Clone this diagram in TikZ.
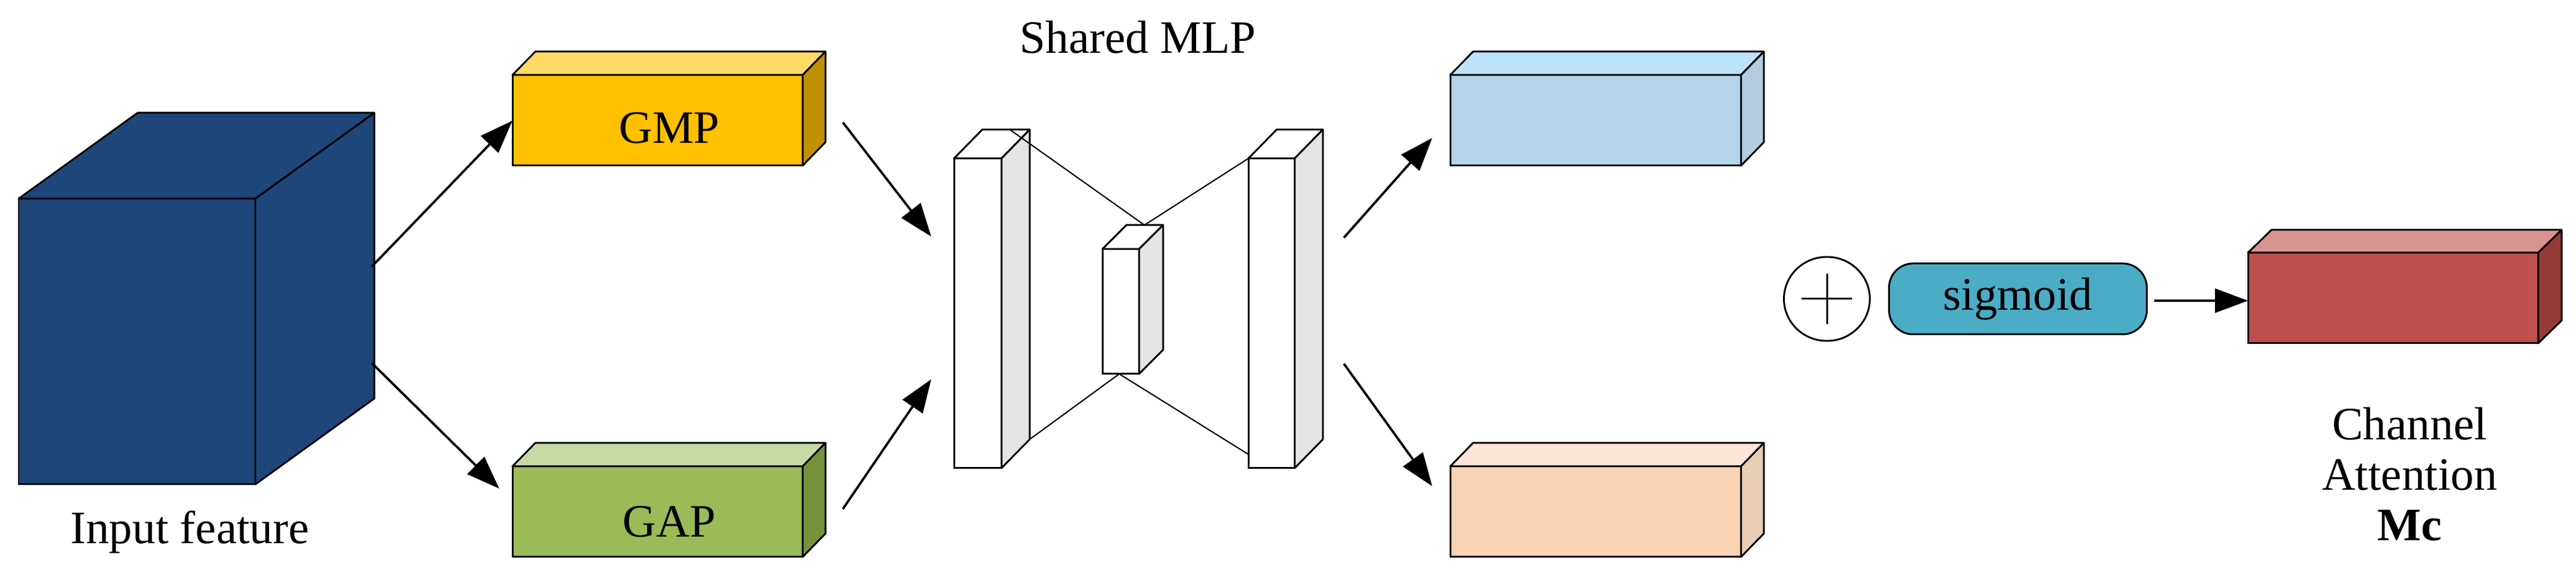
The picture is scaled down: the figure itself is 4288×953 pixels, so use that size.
\documentclass[tikz,border=0pt]{standalone}
\usepackage{fontspec}
\setmainfont{Liberation Serif}
\usetikzlibrary{arrows.meta,calc,shapes.geometric}
\definecolor{navy}{HTML}{1F467A}
\definecolor{gmpF}{HTML}{FFC000}\definecolor{gmpT}{HTML}{FFD966}\definecolor{gmpS}{HTML}{BF9000}
\definecolor{gapF}{HTML}{9BBB59}\definecolor{gapT}{HTML}{C6D9A5}\definecolor{gapS}{HTML}{76923C}
\definecolor{bluF}{HTML}{B4D4EC}\definecolor{bluT}{HTML}{BDE3FB}\definecolor{bluS}{HTML}{B4CCE0}
\definecolor{pchF}{HTML}{F8D4B4}\definecolor{pchT}{HTML}{FCE4D6}\definecolor{pchS}{HTML}{E8CCB4}
\definecolor{redF}{HTML}{C0504D}\definecolor{redT}{HTML}{D9948F}\definecolor{redS}{HTML}{963C38}
\definecolor{sigC}{HTML}{4BACC6}\definecolor{mlpS}{HTML}{E4E4E4}
\newcommand\cub[9]{%
  \node[face,fill=#8,minimum width=#4*0.1mm,minimum height=#5*0.1mm,anchor=north west] (#1) at (#2,#3) {};
  \draw[edge,fill=#9] (#1.north west) -- ++(#6,-#7) -- ++(#4,0) -- ++(-#6,#7) -- cycle;
}
\newcommand\side[4]{% name dx dy color
  \draw[edge,fill=#4] (#1.north east) -- ++(#2,-#3) -- ($(#1.south east)+(#2,-#3)$) -- (#1.south east) -- cycle;
}
\tikzset{face/.style={draw,line width=0.85pt,inner sep=0pt,outer sep=0pt},
  edge/.style={line width=0.85pt,line join=round},
  arr/.style={line width=1.1pt,-{Triangle[length=5.5mm,width=4mm]}},
  lbl/.style={font=\fontsize{22}{26}\selectfont},
  thin/.style={line width=0.6pt}}
\begin{document}
\begin{tikzpicture}[x=0.1mm,y=-0.1mm]
\useasboundingbox (0,0) rectangle (4288,953);
% input cube
\cub{inp}{31}{331}{394}{476}{198}{143}{navy}{navy}{}
\side{inp}{198}{143}{navy}
\cub{gmp}{853}{125}{483}{151}{38}{39}{gmpF}{gmpT}{}
\side{gmp}{38}{39}{gmpS}
\cub{gap}{853}{777}{483}{151}{38}{39}{gapF}{gapT}{}
\side{gap}{38}{39}{gapS}
\cub{blu}{2414}{125}{484}{151}{38}{39}{bluF}{bluT}{}
\side{blu}{38}{39}{bluS}
\cub{pch}{2414}{777}{484}{151}{38}{39}{pchF}{pchT}{}
\side{pch}{38}{39}{pchS}
\cub{red}{3742}{421}{483}{151}{39}{38}{redF}{redT}{}
\side{red}{39}{38}{redS}
% MLP
\cub{l1}{1588}{264}{79}{516}{47}{48}{white}{white}{}
\side{l1}{47}{48}{mlpS}
\cub{l2}{2078}{264}{77}{516}{47}{48}{white}{white}{}
\side{l2}{47}{48}{mlpS}
\coordinate (l1bt) at ($(l1.north east)+(14,-48)$);
\coordinate (l1sb) at ($(l1.south east)+(47,-48)$);
\coordinate (mt) at (1905,375);
\coordinate (mb) at (1863,623);
\coordinate (l2b) at (2078,757);
\draw[thin] (l1bt) -- (mt) -- (l2.north west);
\draw[thin] (l1sb) -- (mb) -- (l2b);
\cub{mid}{1835}{415}{61}{208}{40}{40}{white}{white}{}
\side{mid}{40}{40}{mlpS}
% labels
\node[lbl] (tin) at (316,887) {Input feature};
\node[lbl] (tgmp) at (1114,213) {GMP};
\node[lbl] (tgap) at (1114,869) {GAP};
\node[lbl] (tmlp) at (1894,62) {Shared MLP};
\node[lbl,align=center] (tca) at (4011,790) {Channel\\[-2pt]Attention\\[-2pt]\textbf{Mc}};
% arrows
\coordinate (a1) at (619,444); \coordinate (a1e) at (853,201);
\coordinate (a2) at (619,605); \coordinate (a2e) at (831,814);
\coordinate (a3) at (1403,204); \coordinate (a3e) at (1550,394);
\coordinate (a4) at (1403,848); \coordinate (a4e) at (1550,632);
\coordinate (a5) at (2237,396); \coordinate (a5e) at (2384,230);
\coordinate (a6) at (2237,606); \coordinate (a6e) at (2384,810);
\draw[arr] (a1) -- (a1e);
\draw[arr] (a2) -- (a2e);
\draw[arr] (a3) -- (a3e);
\draw[arr] (a4) -- (a4e);
\draw[arr] (a5) -- (a5e);
\draw[arr] (a6) -- (a6e);
% plus, sigmoid
\node[draw,line width=0.85pt,ellipse,minimum width=14.3mm,minimum height=14mm,inner sep=0pt] (plus) at (3041,498) {};
\draw[line width=0.85pt] ($(plus.center)+(-42,0)$) -- ($(plus.center)+(42,0)$) ($(plus.center)+(0,-42)$) -- ($(plus.center)+(0,42)$);
\node[draw,line width=0.85pt,fill=sigC,rounded corners=4mm,minimum width=42.9mm,minimum height=11.8mm,lbl] (sig) at (3359,498) {sigmoid};
\coordinate (s0) at ($(sig.east)+(11,3)$);
\draw[arr] (s0) -- (red.west |- s0);
\end{tikzpicture}
\end{document}
